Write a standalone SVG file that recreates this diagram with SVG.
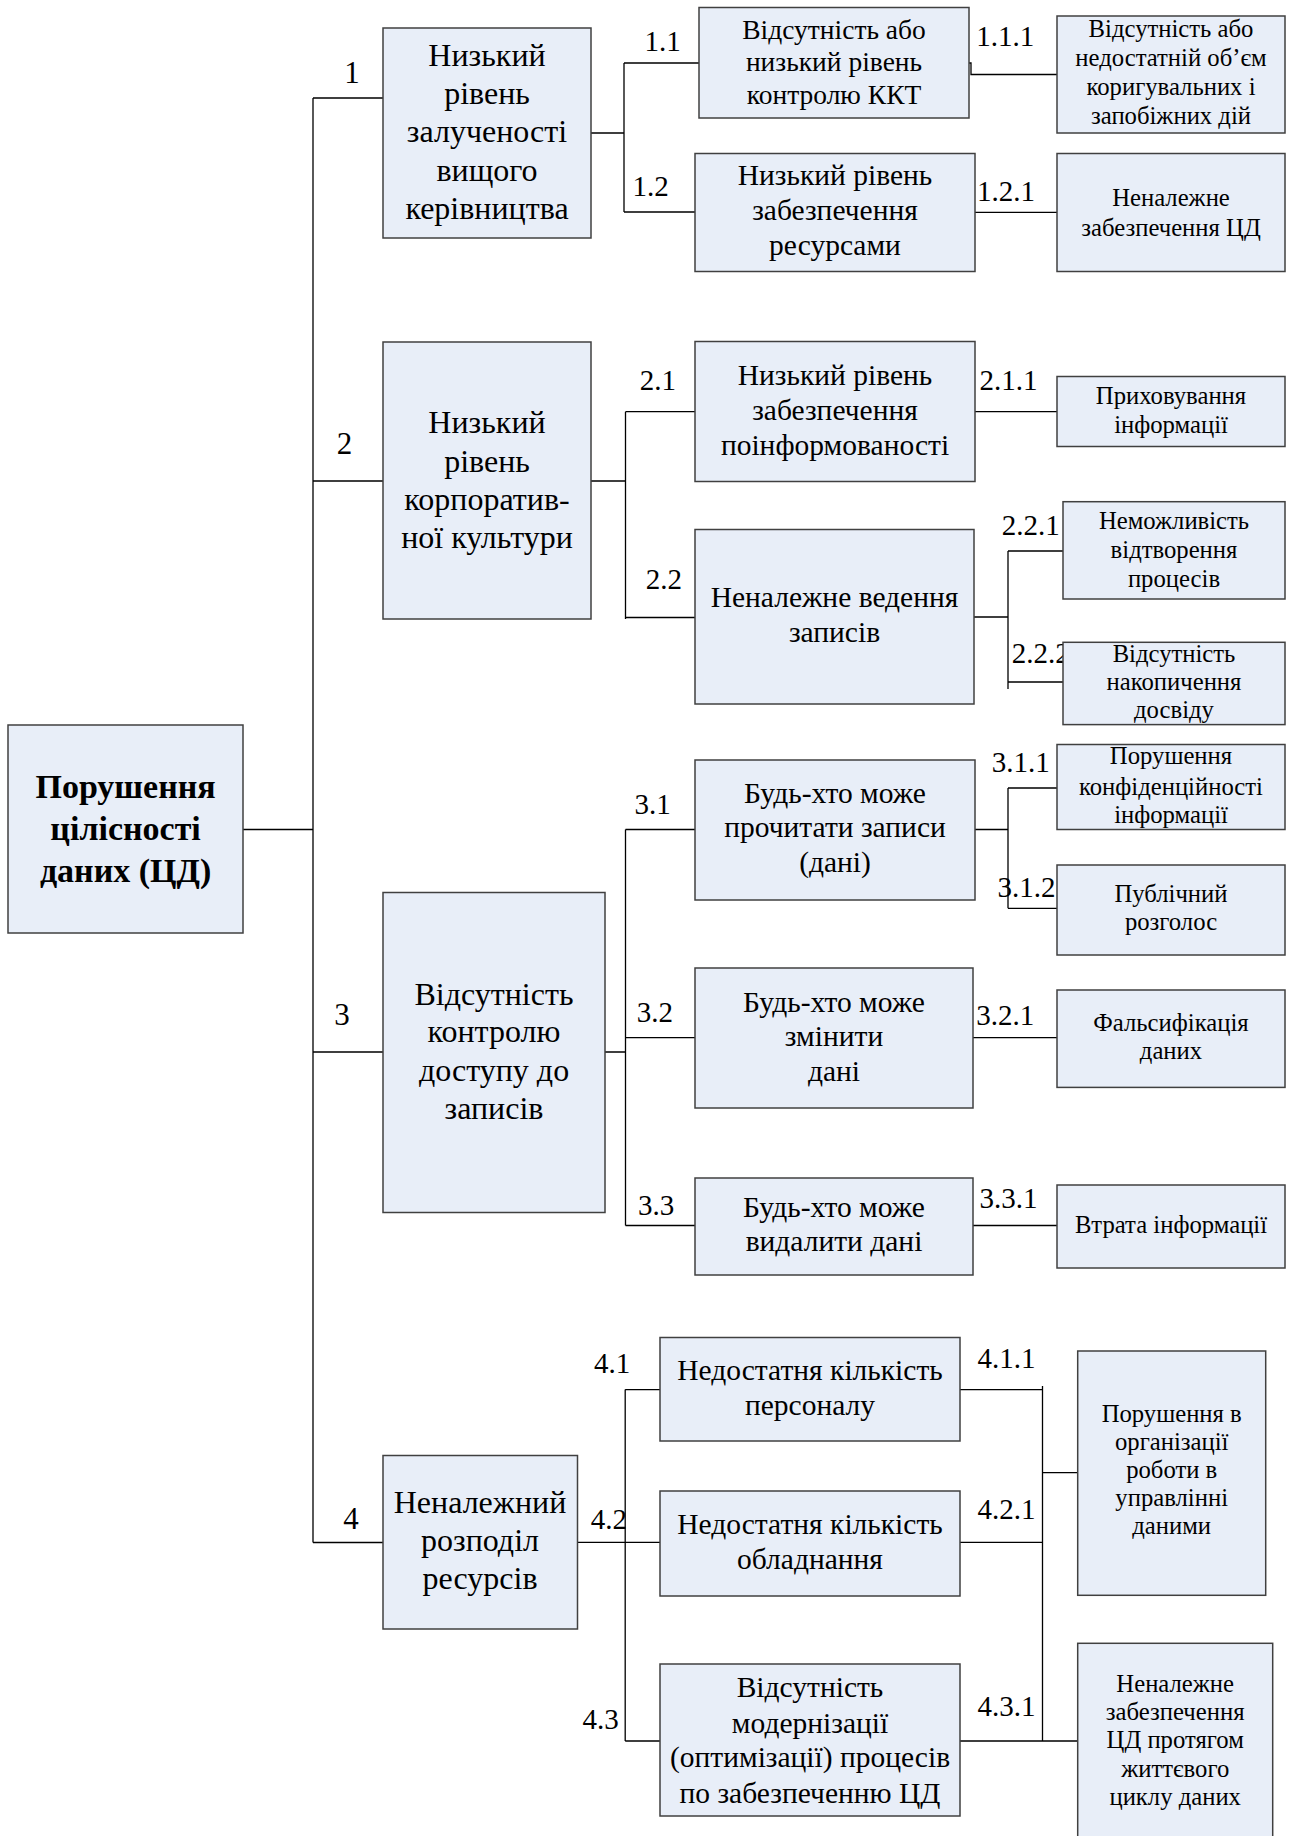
<svg xmlns="http://www.w3.org/2000/svg" width="1289" height="1836" viewBox="0 0 1289 1836" font-family="'Liberation Serif', 'Times New Roman', serif">
<style>
.b{fill:#E8EEF8;stroke:#404040;stroke-width:1.5}
text{font-family:'Liberation Serif','Times New Roman',serif;fill:#000;text-anchor:middle}
.m{font-size:34px;font-weight:bold}
.l1{font-size:32px}
.l2{font-size:29.5px}
.l3{font-size:24.7px}
.n{font-size:29px}
.n0{font-size:31px}
.c{fill:none;stroke:#000;stroke-width:1.3}
</style>
<rect width="1289" height="1836" fill="#fff"/>
<g id="connectors" class="c">
<path d="M243 829.5H313M313 98V1542.5M313 98H383M313 481H383M313 1052H383M313 1542.5H383"/>
<path d="M591 133H624M624 63V212M624 63H699M624 212H695M969 63H971V74.5H1057M975 212.3H1057"/>
<path d="M591 481H625.5M625.5 411.7V619M625.5 411.7H695M625.5 617.5H695M975 411.7H1057M974 617H1008M1008 551V689M1008 551H1063M1008 682H1063"/>
<path d="M605 1052H625.5M625.5 829.5V1225.5M625.5 829.5H695M625.5 1037.6H695M625.5 1225.5H695M975 829.5H1008M1008 788V908.3M1008 788H1057M1008 908.3H1057M973 1037.6H1057M973 1225.5H1057"/>
<path d="M577.5 1542.4H625.2M625.2 1389.6V1741M625.2 1389.6H660M625.2 1542.4H660M625.2 1741H660M960 1389.6H1042.5M960 1542.4H1042.5M960 1741H1077.7M1042.5 1386V1741M1042.5 1472.7H1077.7"/>
</g>
<g id="labels">
<text class="n n0" x="352" y="83">1</text>
<text class="n n0" x="344.5" y="454">2</text>
<text class="n n0" x="342" y="1025">3</text>
<text class="n n0" x="351" y="1529">4</text>
<text class="n" x="662.6" y="50.6">1.1</text>
<text class="n" x="650.5" y="195.7">1.2</text>
<text class="n" x="1005.3" y="45.6">1.1.1</text>
<text class="n" x="1006" y="201">1.2.1</text>
<text class="n" x="657.8" y="389.7">2.1</text>
<text class="n" x="1008.6" y="389.7">2.1.1</text>
<text class="n" x="663.8" y="589.3">2.2</text>
<text class="n" x="1030.8" y="535">2.2.1</text>
<text class="n" x="1040.8" y="663.3">2.2.2</text>
<text class="n" x="652.7" y="813.8">3.1</text>
<text class="n" x="1020.7" y="772">3.1.1</text>
<text class="n" x="1026.6" y="896.7">3.1.2</text>
<text class="n" x="654.9" y="1021.9">3.2</text>
<text class="n" x="1005.3" y="1025">3.2.1</text>
<text class="n" x="656.2" y="1214.7">3.3</text>
<text class="n" x="1008.6" y="1207.6">3.3.1</text>
<text class="n" x="612.1" y="1372.5">4.1</text>
<text class="n" x="608.8" y="1529">4.2</text>
<text class="n" x="600.5" y="1729">4.3</text>
<text class="n" x="1006.4" y="1368.4">4.1.1</text>
<text class="n" x="1006.4" y="1518.8">4.2.1</text>
<text class="n" x="1006.4" y="1716.4">4.3.1</text>
</g>
<g id="root">
<rect class="b" x="8" y="725" width="235" height="208"/>
<text class="m" x="125.6"><tspan x="125.6" y="798">Порушення</tspan><tspan x="125.6" y="840">цілісності</tspan><tspan x="125.6" y="882">даних (ЦД)</tspan></text>
</g>
<g id="n1">
<rect class="b" x="383" y="28" width="208" height="210"/>
<text class="l1"><tspan x="487" y="66">Низький</tspan><tspan x="487" y="104">рівень</tspan><tspan x="487" y="142">залученості</tspan><tspan x="487" y="181">вищого</tspan><tspan x="487" y="219">керівництва</tspan></text>
</g>
<g id="n2">
<rect class="b" x="383" y="342" width="208" height="277"/>
<text class="l1"><tspan x="487" y="433">Низький</tspan><tspan x="487" y="472">рівень</tspan><tspan x="487" y="510">корпоратив-</tspan><tspan x="487" y="548">ної культури</tspan></text>
</g>
<g id="n3">
<rect class="b" x="383" y="892.5" width="222" height="320"/>
<text class="l1"><tspan x="494" y="1004.5">Відсутність</tspan><tspan x="494" y="1042">контролю</tspan><tspan x="494" y="1081">доступу до</tspan><tspan x="494" y="1118.5">записів</tspan></text>
</g>
<g id="n4">
<rect class="b" x="383" y="1455.5" width="194.5" height="173.5"/>
<text class="l1"><tspan x="480" y="1512.6">Неналежний</tspan><tspan x="480" y="1551.3">розподіл</tspan><tspan x="480" y="1589">ресурсів</tspan></text>
</g>
<g id="n1_1">
<rect class="b" x="699" y="7.5" width="270" height="110.5"/>
<text style="font-size:27.5px"><tspan x="834" y="39.4">Відсутність або</tspan><tspan x="834" y="70.5">низький рівень</tspan><tspan x="834" y="103.6">контролю ККТ</tspan></text>
</g>
<g id="n1_2">
<rect class="b" x="695" y="153.5" width="280" height="118"/>
<text class="l2"><tspan x="835" y="184.5">Низький рівень</tspan><tspan x="835" y="219.7">забезпечення</tspan><tspan x="835" y="255">ресурсами</tspan></text>
</g>
<g id="n2_1">
<rect class="b" x="695" y="341.5" width="280" height="140"/>
<text class="l2"><tspan x="835" y="384.7">Низький рівень</tspan><tspan x="835" y="419.6">забезпечення</tspan><tspan x="835" y="454.8">поінформованості</tspan></text>
</g>
<g id="n2_2">
<rect class="b" x="695" y="529.5" width="279" height="174.5"/>
<text class="l2"><tspan x="834.5" y="607">Неналежне ведення</tspan><tspan x="834.5" y="642">записів</tspan></text>
</g>
<g id="n3_1">
<rect class="b" x="695" y="760" width="280" height="140"/>
<text class="l2"><tspan x="835" y="802.6">Будь-хто може</tspan><tspan x="835" y="837.4">прочитати записи</tspan><tspan x="835" y="871.8">(дані)</tspan></text>
</g>
<g id="n3_2">
<rect class="b" x="695" y="968" width="278" height="140"/>
<text class="l2"><tspan x="834" y="1011.5">Будь-хто може</tspan><tspan x="834" y="1046">змінити</tspan><tspan x="834" y="1081">дані</tspan></text>
</g>
<g id="n3_3">
<rect class="b" x="695" y="1178" width="278" height="97"/>
<text class="l2"><tspan x="834" y="1217">Будь-хто може</tspan><tspan x="834" y="1251">видалити дані</tspan></text>
</g>
<g id="n4_1">
<rect class="b" x="660" y="1337.5" width="300" height="103.5"/>
<text class="l2"><tspan x="810" y="1380">Недостатня кількість</tspan><tspan x="810" y="1414.5">персоналу</tspan></text>
</g>
<g id="n4_2">
<rect class="b" x="660" y="1491" width="300" height="105"/>
<text class="l2"><tspan x="810" y="1534">Недостатня кількість</tspan><tspan x="810" y="1568.5">обладнання</tspan></text>
</g>
<g id="n4_3">
<rect class="b" x="660" y="1664" width="300" height="152"/>
<text class="l2"><tspan x="810" y="1696.5">Відсутність</tspan><tspan x="810" y="1732.5">модернізації</tspan><tspan x="810" y="1766.7">(оптимізації) процесів</tspan><tspan x="810" y="1802.6">по забезпеченню ЦД</tspan></text>
</g>
<g id="n1_1_1">
<rect class="b" x="1057" y="16" width="228" height="117"/>
<text class="l3"><tspan x="1171" y="37.3">Відсутність або</tspan><tspan x="1171" y="66.3">недостатній об’єм</tspan><tspan x="1171" y="95.4">коригувальних і</tspan><tspan x="1171" y="124.4">запобіжних дій</tspan></text>
</g>
<g id="n1_2_1">
<rect class="b" x="1057" y="153.5" width="228" height="118"/>
<text class="l3"><tspan x="1171" y="206">Неналежне</tspan><tspan x="1171" y="235.5">забезпечення ЦД</tspan></text>
</g>
<g id="n2_1_1">
<rect class="b" x="1057" y="376.5" width="228" height="70"/>
<text class="l3"><tspan x="1171" y="404.2">Приховування</tspan><tspan x="1171" y="433.3">інформації</tspan></text>
</g>
<g id="n2_2_1">
<rect class="b" x="1063" y="501.7" width="222" height="97.3"/>
<text class="l3"><tspan x="1174" y="528.5">Неможливість</tspan><tspan x="1174" y="558">відтворення</tspan><tspan x="1174" y="587">процесів</tspan></text>
</g>
<g id="n2_2_2">
<rect class="b" x="1063" y="642.3" width="222" height="82.3"/>
<text class="l3"><tspan x="1174" y="661.7">Відсутність</tspan><tspan x="1174" y="690">накопичення</tspan><tspan x="1174" y="718">досвіду</tspan></text>
</g>
<g id="n3_1_1">
<rect class="b" x="1057" y="744.5" width="228" height="85"/>
<text class="l3"><tspan x="1171" y="764">Порушення</tspan><tspan x="1171" y="795">конфіденційності</tspan><tspan x="1171" y="823.3">інформації</tspan></text>
</g>
<g id="n3_1_2">
<rect class="b" x="1057" y="865" width="228" height="90"/>
<text class="l3"><tspan x="1171" y="901.7">Публічний</tspan><tspan x="1171" y="930">розголос</tspan></text>
</g>
<g id="n3_2_1">
<rect class="b" x="1057" y="990" width="228" height="97.4"/>
<text class="l3"><tspan x="1171" y="1030.6">Фальсифікація</tspan><tspan x="1171" y="1059.2">даних</tspan></text>
</g>
<g id="n3_3_1">
<rect class="b" x="1057" y="1185" width="228" height="83"/>
<text class="l3"><tspan x="1171" y="1232.5">Втрата інформації</tspan></text>
</g>
<g id="nA">
<rect class="b" x="1077.7" y="1351" width="188" height="244.3"/>
<text class="l3"><tspan x="1171.7" y="1421.5">Порушення в</tspan><tspan x="1171.7" y="1449.5">організації</tspan><tspan x="1171.7" y="1477.5">роботи в</tspan><tspan x="1171.7" y="1505.5">управлінні</tspan><tspan x="1171.7" y="1533.5">даними</tspan></text>
</g>
<g id="nB">
<rect class="b" x="1077.7" y="1643.3" width="195" height="200"/>
<text class="l3"><tspan x="1175.2" y="1691.7">Неналежне</tspan><tspan x="1175.2" y="1720">забезпечення</tspan><tspan x="1175.2" y="1748.3">ЦД протягом</tspan><tspan x="1175.2" y="1776.7">життєвого</tspan><tspan x="1175.2" y="1805">циклу даних</tspan></text>
</g>
</svg>
